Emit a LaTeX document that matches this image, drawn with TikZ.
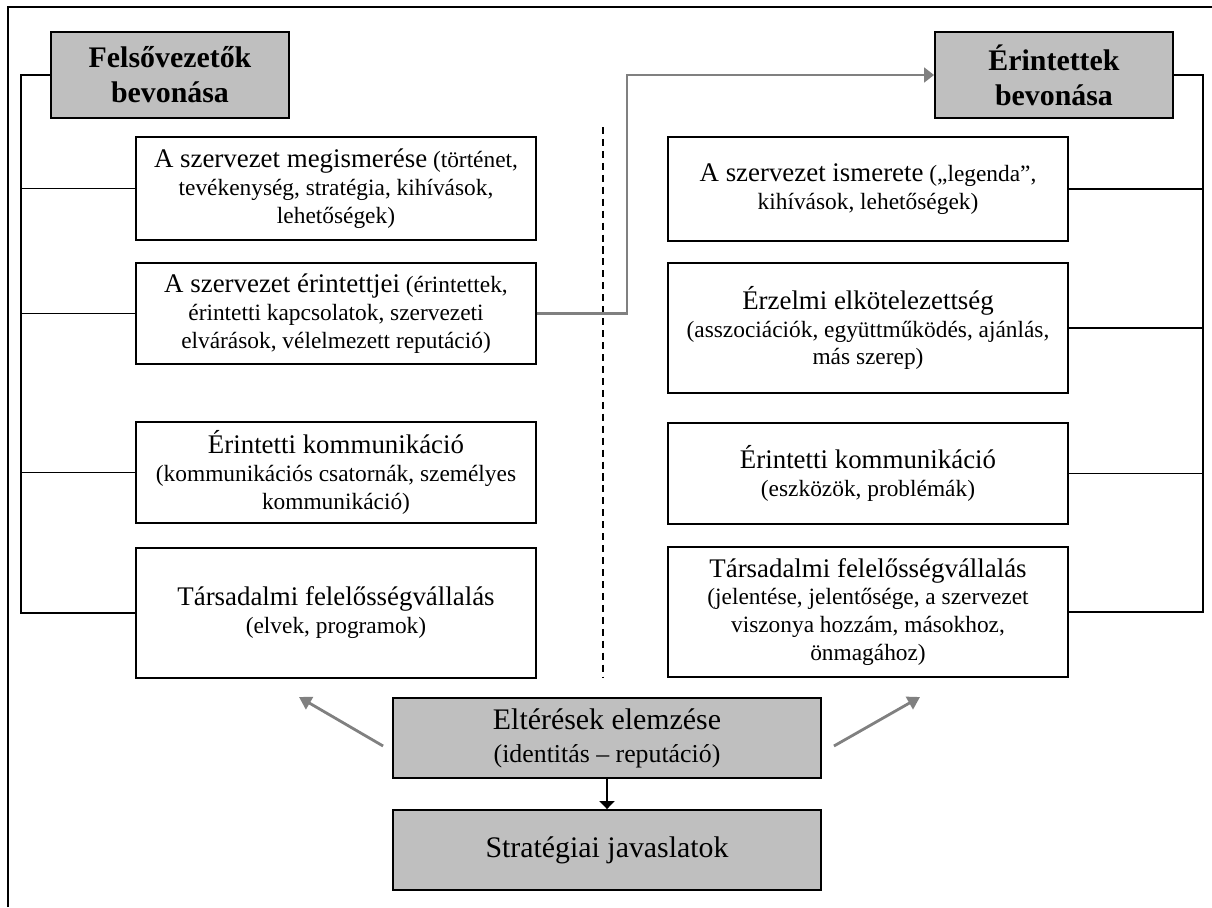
\documentclass[tikz,border=0pt]{standalone}
\usepackage{fontspec}
\setmainfont{Liberation Serif}
\usetikzlibrary{calc,arrows.meta}

\tikzset{
    box/.style={draw, line width=1.1pt, fill=white, align=center, inner sep=0pt,
        minimum width=8cm, font=\fontsize{13.3}{15.9}\selectfont},
    greybox/.style={box, fill=black!25},
    headbox/.style={greybox, minimum width=4.76cm, minimum height=1.72cm,
        font=\bfseries\fontsize{17}{19.8}\selectfont},
    link/.style={line width=1.1pt},
    greyarrow/.style={draw=gray, line width=1.2pt, -{Triangle[length=5.7pt,width=8.5pt]}}
}
\newcommand{\bigpart}[1]{{\fontsize{15.3}{15.9}\selectfont #1}}

\begin{document}
\begin{tikzpicture}[x=0.02cm, y=-0.02cm]
    \useasboundingbox (0,0) rectangle (1212,907);

    % Draw outer frame
    \draw[line width=1.1pt] (8,907) -- (8,7) -- (1212,7);

    % Define points for the buses, the dashed divider and the free arrow ends
    \coordinate (busL) at (21,75);
    \coordinate (busR) at (1203,75);
    \coordinate (turn) at (627,75);
    \coordinate (dTop) at (603,127);
    \coordinate (dBot) at (603,678);
    \coordinate (aL) at (299,697);
    \coordinate (aR) at (920,697);

    % Draw header boxes
    \node[headbox] (hdL) at (170,75) {Felsővezetők\\bevonása};
    \node[headbox] (hdR) at (1054,75) {Érintettek\\bevonása};

    % Draw left column boxes
    \node[box, minimum height=2.06cm] (L1) at (336,188.5)
        {\bigpart{A szervezet megismerése} (történet,\\tevékenység, stratégia, kihívások,\\lehetőségek)};
    \node[box, minimum height=2.02cm] (L2) at (336,313.5)
        {\bigpart{A szervezet érintettjei} (érintettek,\\érintetti kapcsolatok, szervezeti\\elvárások, vélelmezett reputáció)};
    \node[box, minimum height=2.02cm] (L3) at (336,472.5)
        {\bigpart{Érintetti kommunikáció}\\(kommunikációs csatornák, személyes\\kommunikáció)};
    \node[box, minimum height=2.6cm] (L4) at (336,613)
        {\bigpart{Társadalmi felelősségvállalás}\\(elvek, programok)};

    % Draw right column boxes
    \node[box, minimum height=2.08cm] (R1) at (868,189)
        {\bigpart{A szervezet ismerete} („legenda”,\\kihívások, lehetőségek)};
    \node[box, minimum height=2.6cm] (R2) at (868,328)
        {\bigpart{Érzelmi elkötelezettség}\\(asszociációk, együttműködés, ajánlás,\\más szerep)};
    \node[box, minimum height=2.02cm] (R3) at (868,473.5)
        {\bigpart{Érintetti kommunikáció}\\(eszközök, problémák)};
    \node[box, minimum height=2.6cm] (R4) at (868,612)
        {\bigpart{Társadalmi felelősségvállalás}\\(jelentése, jelentősége, a szervezet\\viszonya hozzám, másokhoz,\\önmagához)};

    % Draw analysis and proposal boxes
    \node[greybox, minimum width=8.56cm, minimum height=1.6cm, font=\fontsize{14.7}{18.7}\selectfont] (An) at (607,738)
        {{\fontsize{17}{18.7}\selectfont Eltérések elemzése}\\(identitás – reputáció)};
    \node[greybox, minimum width=8.56cm, minimum height=1.6cm, font=\fontsize{17}{18.7}\selectfont] (St) at (607,850)
        {Stratégiai javaslatok};

    % Draw buses on both sides
    \draw[link] (hdL.west) -- (busL) |- (L4.west);
    \draw[link] (hdR.east) -- (busR) |- (R4.east);
    \foreach \n in {L1,L2,L3}
        \draw[link] (\n.west) -- (\n.west -| busL);
    \foreach \n in {R1,R2,R3}
        \draw[link] (\n.east) -- (\n.east -| busR);

    % Draw dashed divider
    \draw[line width=0.8pt, dash pattern=on 4pt off 2.8pt] (dTop) -- (dBot);

    % Draw grey arrows
    \draw[greyarrow] (L2.east) -- (L2.east -| turn) |- (hdR.west);
    \draw[greyarrow, line width=1.6pt, -{Triangle[length=7pt,width=8pt]}] ($(An.west)+(-9,8)$) -- (aL);
    \draw[greyarrow, line width=1.6pt, -{Triangle[length=7pt,width=8pt]}] ($(An.east)+(12,8)$) -- (aR);

    % Draw arrow to proposals
    \draw[link, -{Triangle[length=4.5pt,width=8.5pt]}] (An.south) -- (St.north);

\end{tikzpicture}
\end{document}
